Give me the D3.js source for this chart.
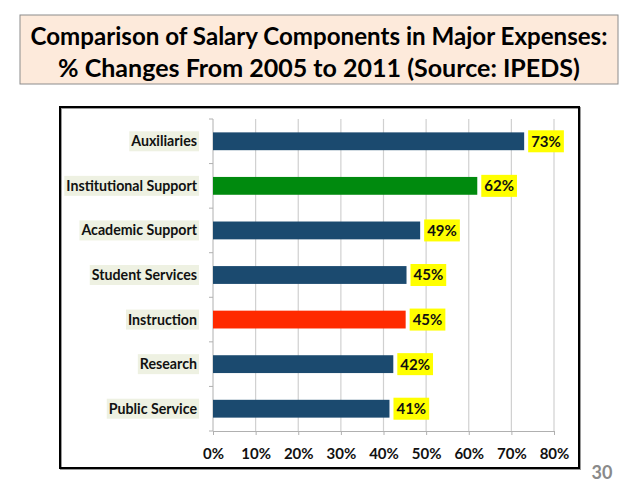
<!DOCTYPE html>
<html>
<head>
<meta charset="utf-8">
<script src="https://cdn.jsdelivr.net/npm/d3@7"></script>
<style>
	body { margin: 0; background: white; }
</style>
</head>
<body>
<script>
//the chart data
let categories = ["Auxiliaries", "Institutional Support", "Academic Support", "Student Services", "Instruction", "Research", "Public Service"];
let values = [73, 62, 48.6, 45.4, 45.2, 42.3, 41.4]; //% change 2005 to 2011
let barColors = ["#1b4a6f", "#008a0e", "#1b4a6f", "#1b4a6f", "#ff2a00", "#1b4a6f", "#1b4a6f"];
let xTicks = [0, 10, 20, 30, 40, 50, 60, 70, 80];
let titleLines = ["Comparison of Salary Components in Major Expenses:", "% Changes From 2005 to 2011 (Source: IPEDS)"];
let pageNumber = "30";

let font = "Lato, 'Open Sans', sans-serif";

let data = categories.map((c, i) => ({ category: c, value: values[i], color: barColors[i] }));

let svg = d3.select("body").append("svg")
	.attr("width", 640)
	.attr("height", 486)
	.attr("font-family", font)
	.attr("font-weight", "bold");

//shrinks or grows a text until it is the wanted width
function fitText(sel, w) {
	let len = sel.node().getComputedTextLength();
	let size = parseFloat(sel.attr("font-size"));
	sel.attr("font-size", size * w / len);
}

//title box
svg.append("rect")
	.attr("x", 20).attr("y", 15)
	.attr("width", 598).attr("height", 69)
	.attr("fill", "#fdeadb")
	.attr("stroke", "#8c8c8c")
	.attr("stroke-width", 1);

let titleWidths = [577, 522];
titleLines.forEach((t, i) => {
	let tx = svg.append("text")
		.attr("x", 319)
		.attr("y", 45 + i * 32)
		.attr("text-anchor", "middle")
		.attr("font-size", 22)
		.attr("fill", "black")
		.text(t);
	fitText(tx, titleWidths[i]);
});

//chart frame with a little shadow
svg.append("rect")
	.attr("x", 61).attr("y", 108)
	.attr("width", 519).attr("height", 361)
	.attr("fill", "none")
	.attr("stroke", "#9a9a9a")
	.attr("stroke-width", 2);
svg.append("rect")
	.attr("x", 60).attr("y", 107)
	.attr("width", 519).attr("height", 361)
	.attr("fill", "none")
	.attr("stroke", "black")
	.attr("stroke-width", 2);

let margin = { top: 119, left: 213 };
let innerWidth = 554 - margin.left;
let innerHeight = 431 - margin.top;

let scaleX = d3.scaleLinear()
	.domain([0, 80])
	.range([0, innerWidth]);

let scaleY = d3.scaleBand()
	.domain(categories)
	.range([0, innerHeight])
	.paddingInner(0.6)
	.paddingOuter(0.3);

let g = svg.append("g")
	.attr("transform", `translate(${margin.left}, ${margin.top})`);

//vertical gridlines
g.selectAll(".grid").data(xTicks.slice(1)).enter().append("line")
	.attr("class", "grid")
	.attr("x1", d => scaleX(d)).attr("x2", d => scaleX(d))
	.attr("y1", 0).attr("y2", innerHeight)
	.attr("stroke", "#d0d0d0")
	.attr("stroke-width", 1.2);

//x axis
let xAxis = d3.axisBottom(scaleX)
	.tickValues(xTicks)
	.tickSize(4)
	.tickPadding(13)
	.tickFormat(d => d + "%");

let xG = g.append("g")
	.attr("transform", `translate(0, ${innerHeight})`)
	.call(xAxis)
	.attr("font-family", font)
	.attr("font-size", 15);
xG.select(".domain").attr("stroke", "#b0b0b0");
xG.selectAll(".tick line").attr("stroke", "#b0b0b0");
xG.selectAll("text")
	.attr("font-weight", "bold")
	.attr("fill", "#111");

//y axis line and ticks at the band edges
let edges = d3.range(categories.length + 1).map(i => i * innerHeight / categories.length);
g.append("line")
	.attr("x1", 0).attr("x2", 0)
	.attr("y1", 0).attr("y2", innerHeight)
	.attr("stroke", "#b0b0b0");
g.selectAll(".ytick").data(edges).enter().append("line")
	.attr("class", "ytick")
	.attr("x1", -4).attr("x2", 0)
	.attr("y1", d => d).attr("y2", d => d)
	.attr("stroke", "#b0b0b0");

//bars
g.selectAll(".bar").data(data).enter().append("rect")
	.attr("class", "bar")
	.attr("x", 0)
	.attr("y", d => scaleY(d.category))
	.attr("width", d => scaleX(d.value))
	.attr("height", scaleY.bandwidth())
	.attr("fill", d => d.color);

//category labels with their pale highlight
let labels = g.selectAll(".cat").data(data).enter().append("g")
	.attr("class", "cat")
	.attr("transform", d => `translate(-16, ${scaleY(d.category) + scaleY.bandwidth() / 2})`);
labels.append("rect");
labels.append("text")
	.attr("text-anchor", "end")
	.attr("dy", "0.35em")
	.attr("font-size", 14.2)
	.attr("fill", "#111")
	.text(d => d.category);
labels.each(function() {
	let grp = d3.select(this);
	let w = grp.select("text").node().getComputedTextLength();
	grp.select("rect")
		.attr("x", -w - 2).attr("y", -10)
		.attr("width", w + 4).attr("height", 20)
		.attr("fill", "#eef1e2");
});

//value labels on yellow
let vals = g.selectAll(".val").data(data).enter().append("g")
	.attr("class", "val")
	.attr("transform", d => `translate(${scaleX(d.value) + 4}, ${scaleY(d.category) + scaleY.bandwidth() / 2})`);
vals.append("rect");
vals.append("text")
	.attr("x", 3)
	.attr("dy", "0.36em")
	.attr("font-size", 15)
	.attr("fill", "#111")
	.text(d => Math.round(d.value) + "%");
vals.each(function() {
	let grp = d3.select(this);
	let w = grp.select("text").node().getComputedTextLength();
	grp.select("rect")
		.attr("x", 0).attr("y", -11)
		.attr("width", w + 6).attr("height", 22)
		.attr("fill", "#ffff00");
});

//slide number
svg.append("text")
	.attr("x", 602)
	.attr("y", 479)
	.attr("text-anchor", "middle")
	.attr("font-size", 18)
	.attr("fill", "#8a8a8a")
	.text(pageNumber);
</script>
</body>
</html>
